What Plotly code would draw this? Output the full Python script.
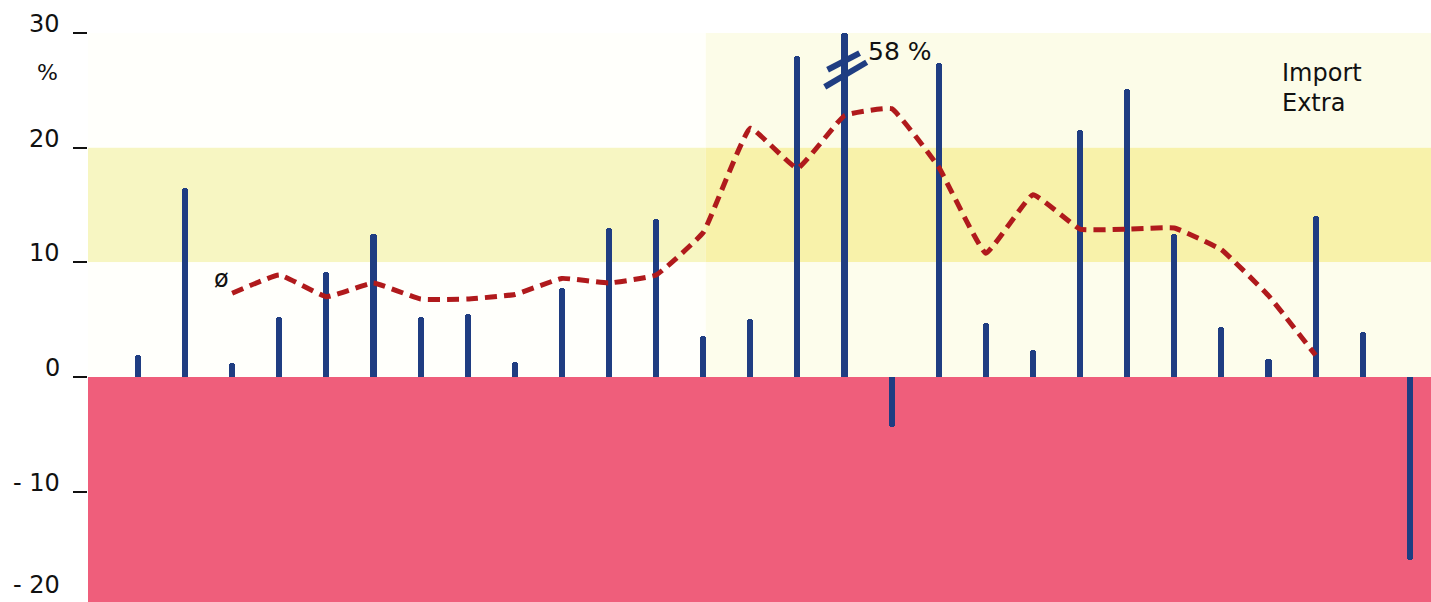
import plotly.graph_objects as go

# ---------------- data ----------------
bar_values = [1.9, 16.5, 1.2, 5.2, 9.2, 12.5, 5.2, 5.5, 1.3, 7.8, 13.0, 13.8, 3.6, 5.1,
              28.0, 58.0, -4.4, 27.4, 4.7, 2.4, 21.5, 25.1, 12.5, 4.4, 1.6, 14.0, 3.9, -16.0]
avg_start = 2
avg_values = [7.3, 8.9, 7.0, 8.2, 6.8, 6.8, 7.2, 8.6, 8.2, 8.9, 12.6, 21.7, 18.2,
              22.8, 23.4, 18.3, 10.8, 15.9, 12.9, 12.9, 13.0, 11.1, 7.1, 1.9]
ytick_vals = [30, 20, 10, 0, -10, -20]
ytick_labels = ["30", "20", "10", "0", "- 10", "- 20"]
axis_cap = 30          # bars above this are drawn broken
outlier_label = "58 %"
series_label = ["Import", "Extra"]
avg_symbol = "ø"

# ---------------- styling ----------------
BAR_COLOR = "#1F3D82"
LINE_COLOR = "#B01A1C"
PINK = "#EF5E7B"
FONT = "DejaVu Sans, Liberation Sans, Arial, sans-serif"
Y_RANGE = [-19.62, 32.88]

def y_paper(v):
    return (v - Y_RANGE[0]) / (Y_RANGE[1] - Y_RANGE[0])

x_idx = list(range(len(bar_values)))
shown = [min(v, axis_cap) for v in bar_values]
broken = [i for i, v in enumerate(bar_values) if v > axis_cap]

fig = go.Figure()

fig.add_trace(go.Bar(
    x=x_idx, y=shown, width=0.13,
    marker=dict(color=BAR_COLOR, line=dict(width=0), cornerradius=3),
    showlegend=False, hoverinfo="skip",
))

avg_x = list(range(avg_start, avg_start + len(avg_values)))
fig.add_trace(go.Scatter(
    x=avg_x, y=avg_values, mode="lines",
    line=dict(color=LINE_COLOR, width=5, dash="12px,7px", shape="spline", smoothing=0.3),
    showlegend=False, hoverinfo="skip",
))

# break marks on clipped bars
for i in broken:
    for (dx0, y0, dx1, y1) in [(-0.36, 26.8, 0.32, 28.25), (-0.42, 25.3, 0.47, 27.45)]:
        fig.add_trace(go.Scatter(
            x=[i + dx0, i + dx1], y=[y0, y1], mode="lines",
            line=dict(color=BAR_COLOR, width=6),
            showlegend=False, hoverinfo="skip",
        ))

# background bands
bands = [
    (20, 30, 0.0, 0.46, "#FFFFFB"), (20, 30, 0.46, 1.0, "#FCFCE8"),
    (10, 20, 0.0, 0.46, "#F7F6C2"), (10, 20, 0.46, 1.0, "#F8F2AA"),
    (0, 10, 0.0, 0.46, "#FFFFFB"), (0, 10, 0.46, 1.0, "#FDFDEC"),
    (-30, 0, 0.0, 1.0, PINK),
]
shapes = [dict(type="rect", xref="paper", yref="y", x0=a, x1=b, y0=y0, y1=y1,
               fillcolor=c, line=dict(width=0), layer="below")
          for (y0, y1, a, b, c) in bands]

annotations = []
for v, t in zip(ytick_vals, ytick_labels):
    if v > Y_RANGE[0] + 2:
        annotations.append(dict(xref="paper", yref="paper", x=-0.0194, y=y_paper(v), text=t,
                                xanchor="right", yanchor="middle", yshift=9, showarrow=False,
                                font=dict(family=FONT, size=24, color="#111")))
    else:
        # lowest label: keep it fully inside the picture
        annotations.append(dict(xref="paper", yref="paper", x=-0.0194, y=0, text=t,
                                xanchor="right", yanchor="bottom", yshift=1, showarrow=False,
                                font=dict(family=FONT, size=24, color="#111")))
annotations.append(dict(xref="paper", yref="paper", x=-0.0298, y=1 - 73 / 602, text="%",
                        xanchor="center", yanchor="middle", showarrow=False,
                        font=dict(family=FONT, size=22, color="#111")))
annotations.append(dict(xref="x", yref="y", x=avg_start, y=avg_values[0], text=avg_symbol,
                        xanchor="right", yanchor="middle", xshift=-1, yshift=14, showarrow=False,
                        font=dict(family=FONT, size=24, color="#111")))
for i in broken:
    annotations.append(dict(xref="x", yref="y", x=i, y=28.4, text=outlier_label,
                            xanchor="left", yanchor="middle", xshift=21, showarrow=False,
                            font=dict(family=FONT, size=25, color="#111")))
for k, t in enumerate(series_label):
    annotations.append(dict(xref="paper", yref="paper", x=(1280 - 88) / 1343,
                            y=1 - (73 + 30 * k) / 602, text=t,
                            xanchor="left", yanchor="middle", showarrow=False,
                            font=dict(family=FONT, size=24, color="#111")))

fig.update_layout(
    width=1431, height=602,
    margin=dict(l=88, r=0, t=0, b=0),
    paper_bgcolor="white", plot_bgcolor="white",
    bargap=0, shapes=shapes, annotations=annotations,
    xaxis=dict(range=[-1.06, 27.45], visible=False),
    yaxis=dict(range=Y_RANGE, showgrid=False, zeroline=False,
               showticklabels=False, ticks="outside", ticklen=14, tickwidth=1.5,
               tickcolor="#111", tickvals=ytick_vals, showline=False),
)

fig.write_html("out.html", config={"displayModeBar": False},
               post_script="document.body.style.margin='0';")
